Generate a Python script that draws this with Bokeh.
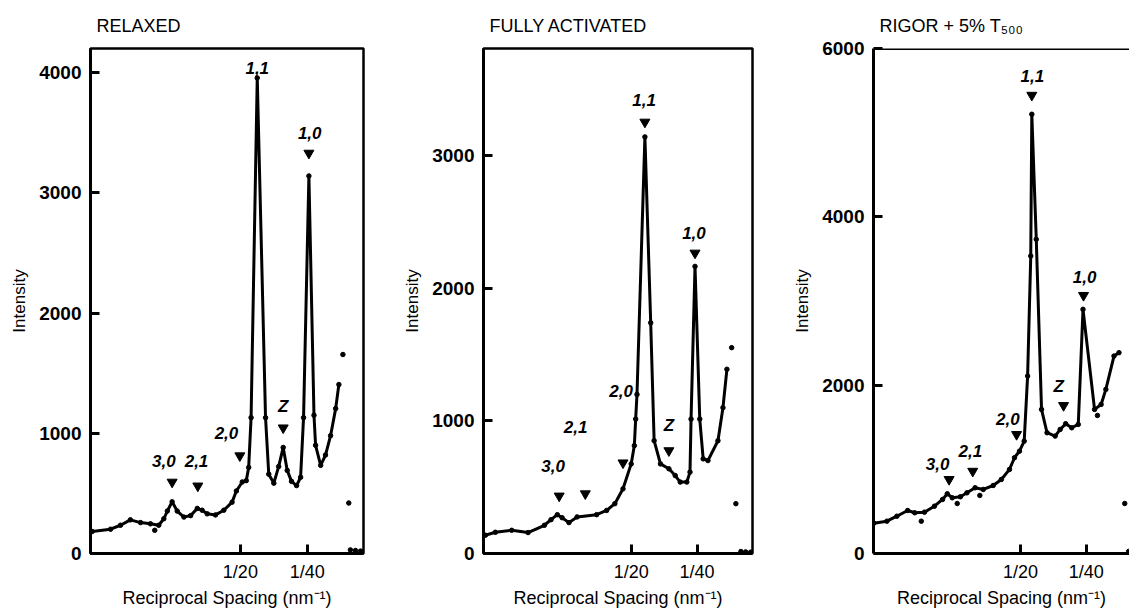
from bokeh.plotting import figure
from bokeh.layouts import row
from bokeh.models import Range1d, FixedTicker, ColumnDataSource, Span
from bokeh.core.properties import value
from bokeh.embed import file_html
from bokeh.resources import INLINE

# ---------------- data (reciprocal spacing in nm^-1, intensity) ----------------
titles = ["RELAXED", "FULLY ACTIVATED", "RIGOR + 5% T\u2085\u2080\u2080"]
x_tick_values = [0.05, 0.025]
x_tick_labels = ["1/20", "1/40"]

relaxed_s = [0.1054, 0.0985, 0.0948, 0.0911, 0.0873, 0.0836, 0.0805, 0.0786, 0.0773, 0.0755,
             0.0736, 0.0711, 0.0686, 0.0661, 0.0643, 0.0624, 0.0593, 0.0562, 0.0531, 0.0515,
             0.0493, 0.0478, 0.0469, 0.0460, 0.0437, 0.0406, 0.0394, 0.0375, 0.0357, 0.0340,
             0.0325, 0.0309, 0.0290, 0.0275, 0.0264, 0.0244, 0.0225, 0.0219, 0.0200, 0.0182,
             0.0163, 0.0144, 0.0132]
relaxed_i = [183, 202, 235, 280, 257, 247, 235, 289, 353, 430,
             353, 303, 315, 375, 360, 330, 321, 360, 427, 520,
             595, 606, 716, 1130, 3955, 1130, 660, 585, 723, 882,
             691, 600, 565, 634, 1130, 3140, 1150, 900, 733, 819,
             980, 1205, 1405]
relaxed_out_s = [0.0820, 0.0117, 0.0095, 0.0089, 0.0070, 0.0051]
relaxed_out_i = [193, 1655, 420, 30, 25, 20]

active_s = [0.1053, 0.1015, 0.0953, 0.0891, 0.0829, 0.0804, 0.0780, 0.0762, 0.0736, 0.0705,
            0.0631, 0.0593, 0.0562, 0.0531, 0.0500, 0.0488, 0.0483, 0.0478, 0.0448, 0.0426,
            0.0413, 0.0389, 0.0357, 0.0333, 0.0314, 0.0289, 0.0277, 0.0273, 0.0258, 0.0240,
            0.0227, 0.0209, 0.0171, 0.0152, 0.0137]
active_i = [138, 160, 175, 158, 213, 255, 293, 270, 233, 276,
            293, 325, 376, 488, 676, 814, 1014, 1200, 3143, 1741,
            851, 676, 639, 588, 539, 539, 614, 1014, 2166, 1014,
            714, 701, 851, 1100, 1390]
active_out_s = [0.0119, 0.0103, 0.0084, 0.0066, 0.0047]
active_out_i = [1553, 376, 15, 12, 10]

rigor_s = [0.1059, 0.1009, 0.0971, 0.0930, 0.0903, 0.0866, 0.0828, 0.0797, 0.0779, 0.0760,
           0.0729, 0.0704, 0.0673, 0.0642, 0.0604, 0.0573, 0.0542, 0.0523, 0.0504, 0.0486,
           0.0473, 0.0461, 0.0457, 0.0440, 0.0420, 0.0399, 0.0368, 0.0349, 0.0328, 0.0305,
           0.0280, 0.0262, 0.0218, 0.0193, 0.0175, 0.0144, 0.0125]
rigor_i = [360, 384, 443, 511, 484, 491, 562, 642, 710, 662,
           674, 721, 781, 761, 808, 880, 999, 1138, 1216, 1335,
           2108, 3535, 5219, 3733, 1712, 1435, 1395, 1474, 1542, 1494,
           1534, 2901, 1712, 1771, 1950, 2346, 2386]
rigor_out_s = [0.0878, 0.0741, 0.0655, 0.0207, 0.0103, 0.0088]
rigor_out_i = [384, 594, 690, 1640, 594, 25]

# reflection labels and arrow heads
relaxed_lab_t = ["1,1", "1,0", "Z", "2,0", "3,0", "2,1"]
relaxed_lab_s = [0.0437, 0.0241, 0.0340, 0.0552, 0.0786, 0.0664]
relaxed_lab_i = [4040, 3500, 1220, 1000, 770, 770]
relaxed_arr_s = [0.0244, 0.0340, 0.0502, 0.0755, 0.0659]
relaxed_arr_i = [3330, 1045, 813, 594, 562]

active_lab_t = ["1,1", "1,0", "Z", "2,0", "2,1", "3,0"]
active_lab_s = [0.0451, 0.0262, 0.0357, 0.0538, 0.0711, 0.0796]
active_lab_i = [3418, 2417, 964, 1227, 952, 659]
active_arr_s = [0.0448, 0.0258, 0.0357, 0.0531, 0.0674, 0.0773]
active_arr_i = [3255, 2267, 776, 684, 451, 434]

rigor_lab_t = ["1,1", "1,0", "Z", "2,0", "2,1", "3,0"]
rigor_lab_s = [0.0455, 0.0256, 0.0355, 0.0548, 0.0691, 0.0816]
rigor_lab_i = [5674, 3289, 1989, 1593, 1216, 1058]
rigor_arr_s = [0.0457, 0.0260, 0.0336, 0.0515, 0.0682, 0.0772]
rigor_arr_i = [5445, 3067, 1759, 1415, 978, 880]

y_max = [4200, 3810, 6000]
y_ticks = [[0, 1000, 2000, 3000, 4000], [0, 1000, 2000, 3000], [0, 2000, 4000, 6000]]

FONT = "Liberation Sans"


def panel(title, s, i, os_, oi, lt, ls, li, as_, ai, ymax, yticks,
          width, mbl, mbr, xend, full_box=True):
    p = figure(width=width, height=610, output_backend="svg", toolbar_location=None,
               x_range=Range1d(0.106, xend), y_range=Range1d(0, ymax),
               min_border_left=mbl, min_border_right=mbr,
               min_border_top=48, min_border_bottom=54, title=title)
    p.background_fill_color = "white"
    p.border_fill_color = "white"
    p.grid.visible = False
    p.title.text_font = FONT
    p.title.text_font_size = "18px"
    p.title.text_font_style = "normal"
    p.title.text_color = "black"
    p.title.align = "left"
    p.title.offset = 6
    p.title.standoff = 25
    if full_box:
        p.outline_line_color = "black"
        p.outline_line_width = 2.5
        p.outline_line_alpha = 1
    else:
        p.outline_line_color = None
        p.add_layout(Span(location=ymax, dimension="width", line_color="black", line_width=3))

    for ax in (p.xaxis[0], p.yaxis[0]):
        ax.axis_line_width = 3
        ax.major_tick_in = 9
        ax.major_tick_out = 0
        ax.major_tick_line_width = 3
        ax.minor_tick_line_color = None
        ax.major_label_text_font = FONT
        ax.major_label_text_color = "black"
        ax.axis_label_text_font = FONT
        ax.axis_label_text_font_style = "normal"
        ax.axis_label_text_color = "black"
    p.xaxis.ticker = FixedTicker(ticks=x_tick_values)
    p.xaxis.major_label_overrides = {v: t for v, t in zip(x_tick_values, x_tick_labels)}
    p.xaxis.major_label_text_font_size = "18px"
    p.xaxis.major_label_text_font_style = "normal"
    p.xaxis.major_label_standoff = 8
    p.xaxis.axis_label = "Reciprocal Spacing (nm\u207b\u00b9)"
    p.xaxis.axis_label_text_font_size = "18px"
    p.xaxis.axis_label_standoff = 3
    p.yaxis.ticker = FixedTicker(ticks=yticks)
    p.yaxis.major_label_text_font_size = "19px"
    p.yaxis.major_label_text_font_style = "bold"
    p.yaxis.major_label_standoff = 9
    p.yaxis.axis_label = "Intensity"
    p.yaxis.axis_label_text_font_size = "17px"
    p.yaxis.axis_label_standoff = 7

    p.line(s, i, line_color="black", line_width=3, line_join="round")
    p.scatter(s, i, size=4.5, color="black")
    p.scatter(os_, oi, size=4.5, color="black")
    p.scatter(as_, ai, marker="inverted_triangle", size=10, color="black")
    src = ColumnDataSource(dict(x=ls, y=li, t=lt))
    p.text(x="x", y="y", text="t", source=src, text_align="center", text_baseline="middle",
           text_font=value(FONT), text_font_size="17px", text_font_style="bold italic",
           text_color="black")
    return p


p1 = panel(titles[0], relaxed_s, relaxed_i, relaxed_out_s, relaxed_out_i,
           relaxed_lab_t, relaxed_lab_s, relaxed_lab_i, relaxed_arr_s, relaxed_arr_i,
           y_max[0], y_ticks[0], 400, 90, 37, 0.004)
p2 = panel(titles[1], active_s, active_i, active_out_s, active_out_i,
           active_lab_t, active_lab_s, active_lab_i, active_arr_s, active_arr_i,
           y_max[1], y_ticks[1], 390, 78, 38, 0.004)
p3 = panel(titles[2], rigor_s, rigor_i, rigor_out_s, rigor_out_i,
           rigor_lab_t, rigor_lab_s, rigor_lab_i, rigor_arr_s, rigor_arr_i,
           y_max[2], y_ticks[2], 339, 78, 0, 0.106 - 261 * 0.0003736, full_box=False)

layout = row(p1, p2, p3)
open("out.html", "w").write(file_html(layout, INLINE))
